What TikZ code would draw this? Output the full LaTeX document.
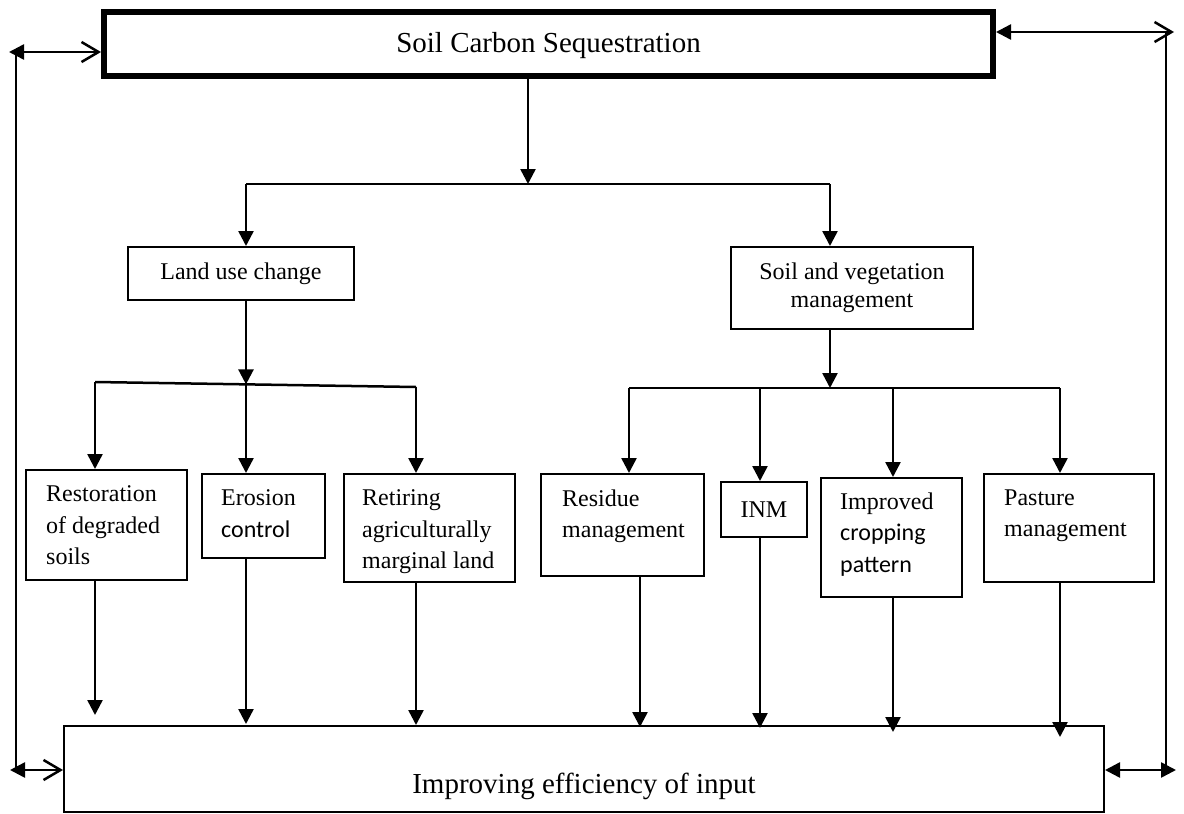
\documentclass[tikz,border=0pt]{standalone}
\usepackage{fontspec}
\setmainfont{Liberation Serif}
\newfontfamily\calibrifont{Carlito}
\usetikzlibrary{arrows.meta}
\begin{document}
\begin{tikzpicture}[x=1pt,y=-1pt,
  conn/.style={line width=2.5pt},
  arr/.style={conn,-{Triangle[length=15pt,width=15pt]}},
  dblarr/.style={conn,{Triangle[length=15pt,width=15pt]}-{Straight Barb[length=17pt,width=20pt]}},
  bothfill/.style={conn,{Triangle[length=15pt,width=15pt]}-{Triangle[length=15pt,width=15pt]}},
  box/.style={draw,line width=2pt,rectangle,inner sep=0pt,anchor=north west},
  lbl/.style={anchor=north west,align=left,inner sep=0pt,font=\fontsize{24}{31.5}\selectfont},
  big/.style={font=\fontsize{29}{34}\selectfont}
]
\useasboundingbox (0,0) rectangle (1184,814);

% main boxes
\node[draw,line width=6pt,minimum width=889pt,minimum height=64pt,inner sep=0pt,big,
      text height=22pt,text depth=6pt] (top) at (548.5,44) {Soil Carbon Sequestration};
\node[draw,line width=2pt,minimum width=1040pt,minimum height=86pt,inner sep=0pt,big,
      text height=54pt,text depth=6pt] (inbox) at (584,769) {Improving efficiency of input};

% level 1
\node[box,minimum width=226pt,minimum height=53pt,font=\fontsize{24}{28}\selectfont] (land) at (127,246) {Land use change};
\node[box,minimum width=242pt,minimum height=82pt,align=center,font=\fontsize{24}{28}\selectfont] (soil) at (730,246) {Soil and vegetation\\management};

% level 2 boxes
\node[box,minimum width=161pt,minimum height=110pt] (restbox) at (25,469) {};
\node[box,minimum width=123pt,minimum height=84pt] (erobox) at (201,473) {};
\node[box,minimum width=171pt,minimum height=108pt] (retbox) at (343,473) {};
\node[box,minimum width=163pt,minimum height=102pt] (resbox) at (540,473) {};
\node[box,minimum width=86pt,minimum height=55pt,font=\fontsize{24}{28}\selectfont] (inmbox) at (720,481) {INM};
\node[box,minimum width=141pt,minimum height=119pt] (impbox) at (820,477) {};
\node[box,minimum width=170pt,minimum height=108pt] (pasbox) at (983,473) {};

% level 2 texts
\node[lbl] (restT) at (46,485.5) {Restoration\\of degraded\\soils};
\node[lbl] (eroT) at (221,489.5) {Erosion\\{\calibrifont control}};
\node[lbl] (retT) at (362,489.5) {Retiring\\agriculturally\\marginal land};
\node[lbl] (resT) at (562,489.5) {Residue\\management};
\node[lbl] (impT) at (840,492.5) {Improved\\{\calibrifont cropping}\\{\calibrifont pattern}};
\node[lbl] (pasT) at (1004,489.5) {Pasture\\management};

% top to level 1
\coordinate (c1) at (528,184);
\coordinate (b1l) at (246,184);
\coordinate (b1r) at (830,184);
\draw[arr] (top.south -| c1) -- (c1);
\draw[conn] (b1l) -- (b1r);
\draw[arr] (b1l) -- (land.north -| b1l);
\draw[arr] (b1r) -- (soil.north -| b1r);

% land use branch
\coordinate (b2l) at (95,382);
\coordinate (b2m) at (246,384.4);
\coordinate (b2r) at (416,387);
\draw[arr] (land.south -| b2m) -- (b2m);
\draw[conn] (b2l) -- (b2r);
\draw[arr] (b2l) -- (restbox.north -| b2l);
\draw[arr] (b2m) -- (erobox.north -| b2m);
\draw[arr] (b2r) -- (retbox.north -| b2r);

% soil branch
\coordinate (b3c) at (830,388);
\coordinate (b3a) at (629,388);
\coordinate (b3b) at (760,388);
\coordinate (b3d) at (893,388);
\coordinate (b3r) at (1060,388);
\draw[arr] (soil.south -| b3c) -- (b3c);
\draw[conn] (b3a) -- (b3r);
\draw[arr] (b3a) -- (resbox.north -| b3a);
\draw[arr] (b3b) -- (inmbox.north -| b3b);
\draw[arr] (b3d) -- (impbox.north -| b3d);
\draw[arr] (b3r) -- (pasbox.north -| b3r);

% down to bottom box
\coordinate (e1) at (95,715);
\coordinate (e2) at (246,724);
\coordinate (e3) at (416,725);
\coordinate (e4) at (640,727);
\coordinate (e5) at (760,728);
\coordinate (e6) at (893,732);
\coordinate (e7) at (1060,737);
\draw[arr] (restbox.south -| e1) -- (e1);
\draw[arr] (erobox.south -| e2) -- (e2);
\draw[arr] (retbox.south -| e3) -- (e3);
\draw[arr] (resbox.south -| e4) -- (e4);
\draw[arr] (inmbox.south -| e5) -- (e5);
\draw[arr] (impbox.south -| e6) -- (e6);
\draw[arr] (pasbox.south -| e7) -- (e7);

% side loops
\coordinate (tl) at (9,52);
\coordinate (tlv) at (16,52);
\coordinate (blv) at (16,770);
\coordinate (bl) at (10,770);
\draw[conn] (tlv) -- (blv);
\draw[dblarr] (tl) -- (top.west |- tl);
\draw[dblarr] (bl) -- (inbox.west |- bl);
\coordinate (tr) at (1174,32);
\coordinate (trv) at (1166,32);
\coordinate (brv) at (1166,770);
\coordinate (br) at (1176,770);
\draw[conn] (trv) -- (brv);
\draw[dblarr] (top.east |- tr) -- (tr);
\draw[bothfill] (inbox.east |- br) -- (br);
\end{tikzpicture}
\end{document}
